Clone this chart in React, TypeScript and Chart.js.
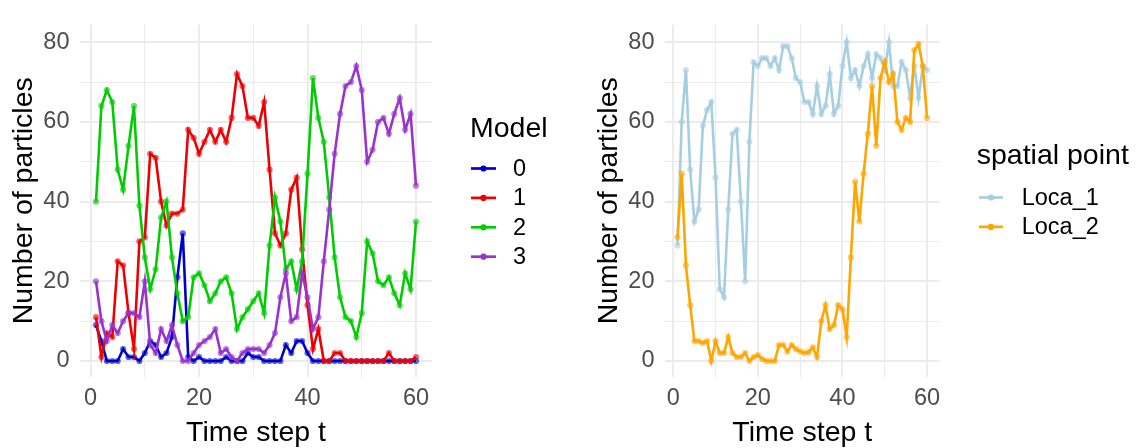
import React, { useEffect, useRef } from 'react';
import { Chart, registerables } from 'chart.js';

Chart.register(...registerables);

// ---------- data ----------
const timeSteps = [1, 2, 3, 4, 5, 6, 7, 8, 9, 10, 11, 12, 13, 14, 15, 16, 17, 18, 19, 20, 21, 22, 23, 24, 25, 26, 27, 28, 29, 30, 31, 32, 33, 34, 35, 36, 37, 38, 39, 40, 41, 42, 43, 44, 45, 46, 47, 48, 49, 50, 51, 52, 53, 54, 55, 56, 57, 58, 59, 60];

const model0 = [9, 5, 0, 0, 0, 3, 1, 1, 0, 2, 5, 4, 1, 2, 6, 21, 32, 1, 0, 1, 0, 0, 0, 0, 1, 0, 0, 0, 2, 1, 1, 0, 0, 0, 0, 4, 2, 5, 5, 2, 0, 0, 0, 0, 0, 0, 0, 0, 0, 0, 0, 0, 0, 0, 0, 0, 0, 0, 0, 0];
const model1 = [11, 1, 7, 6, 25, 24, 12, 3, 30, 31, 52, 51, 40, 34, 37, 37, 38, 58, 56, 52, 55, 58, 55, 58, 55, 61, 72, 69, 61, 61, 59, 65, 48, 32, 29, 32, 43, 46, 28, 14, 3, 8, 0, 0, 2, 2, 0, 0, 0, 0, 0, 0, 0, 0, 2, 0, 0, 0, 0, 1];
const model2 = [40, 64, 68, 65, 48, 43, 54, 64, 39, 26, 18, 23, 36, 40, 26, 17, 10, 11, 21, 22, 19, 15, 17, 20, 21, 17, 8, 11, 13, 15, 17, 12, 29, 41, 35, 23, 25, 18, 25, 47, 71, 61, 55, 41, 26, 16, 11, 10, 6, 12, 30, 27, 20, 19, 21, 17, 14, 22, 18, 35];
const model3 = [20, 10, 5, 9, 7, 10, 12, 12, 11, 20, 4, 2, 8, 5, 9, 4, 0, 0, 2, 4, 5, 6, 8, 2, 3, 1, 0, 2, 3, 3, 3, 2, 4, 7, 16, 22, 10, 11, 22, 16, 8, 11, 25, 38, 52, 62, 69, 70, 74, 68, 50, 53, 60, 61, 57, 62, 66, 58, 62, 44];

const loca1 = [29, 60, 73, 48, 35, 38, 59, 63, 65, 46, 18, 16, 38, 57, 58, 40, 20, 55, 75, 74, 76, 76, 74, 76, 73, 79, 79, 76, 71, 70, 65, 65, 62, 69, 62, 64, 72, 62, 64, 74, 80, 71, 73, 69, 74, 77, 71, 77, 76, 73, 80, 69, 69, 75, 73, 66, 74, 66, 74, 73];
const loca2 = [31, 47, 24, 14, 5, 5, 4.5, 5, 0, 5, 2, 2, 6, 2, 1, 1, 2, 0, 1, 1.5, 0.5, 0, 0, 0, 4, 4, 2.4, 4, 3, 2.4, 2, 2.2, 3.4, 1, 10, 14, 8, 9, 14, 13, 6, 26, 45, 35, 47, 57, 69, 54, 71, 75, 70, 72, 60, 58, 61, 60, 78, 79.5, 74, 61];

const modelNames = ['0', '1', '2', '3'];
const modelColors = ['#0000CD', '#EE0000', '#00CD00', '#9A32CD'];
const locaNames = ['Loca_1', 'Loca_2'];
const locaColors = ['#A6CEE3', '#FFA500'];

const xTickValues = [0, 10, 20, 30, 40, 50, 60];
const yTickValues = [0, 10, 20, 30, 40, 50, 60, 70, 80];

// ---------- styling ----------
const FONT = '"Liberation Sans", Arial, Helvetica, sans-serif';
const GRID = '#EBEBEB';
const TICK_COLOR = '#4D4D4D';

function withAlpha(hex: string, a: number) {
  const r = parseInt(hex.slice(1, 3), 16);
  const g = parseInt(hex.slice(3, 5), 16);
  const b = parseInt(hex.slice(5, 7), 16);
  return `rgba(${r},${g},${b},${a})`;
}

const ggLegend = {
  id: 'ggLegend',
  afterDraw(chart: any, _args: any, opts: any) {
    const ctx = chart.ctx;
    ctx.save();
    ctx.textAlign = 'left';
    ctx.textBaseline = 'alphabetic';
    ctx.fillStyle = '#000';
    ctx.font = `28.5px ${FONT}`;
    ctx.fillText(opts.title, opts.titleX, opts.titleBaseline);
    ctx.font = `23.5px ${FONT}`;
    opts.items.forEach((it: any, i: number) => {
      const cy = opts.itemY0 + i * opts.itemGap;
      ctx.strokeStyle = it.color;
      ctx.lineWidth = 2.7;
      ctx.beginPath();
      ctx.moveTo(opts.keyX0, cy);
      ctx.lineTo(opts.keyX1, cy);
      ctx.stroke();
      ctx.fillStyle = it.color;
      ctx.beginPath();
      ctx.arc((opts.keyX0 + opts.keyX1) / 2, cy, 3.1, 0, Math.PI * 2);
      ctx.fill();
      ctx.fillStyle = '#000';
      ctx.textBaseline = 'middle';
      ctx.fillText(it.label, opts.labelX, cy + 1);
    });
    ctx.restore();
  },
};

function makeDataset(label: string, values: number[], color: string, order: number) {
  return {
    label,
    data: timeSteps.map((t, i) => ({ x: t, y: values[i] })),
    borderColor: color,
    backgroundColor: color,
    borderWidth: 2.6,
    pointRadius: 3.1,
    pointHoverRadius: 3.1,
    pointBackgroundColor: withAlpha(color, 0.6),
    pointBorderWidth: 0,
    tension: 0,
    order,
  };
}

function makeOptions(paddingRight: number, legendOpts: any) {
  return {
    responsive: false,
    maintainAspectRatio: false,
    animation: false as const,
    events: [] as any[],
    layout: { padding: { left: 0, top: 5.5, right: paddingRight, bottom: 0 } },
    plugins: {
      legend: { display: false },
      tooltip: { enabled: false },
      ggLegend: legendOpts,
    },
    scales: {
      x: {
        type: 'linear' as const,
        min: -1.95,
        max: 62.95,
        afterBuildTicks: (s: any) => {
          s.ticks = xTickValues.map((v) => ({ value: v }));
        },
        afterFit: (s: any) => {
          s.height = 71;
        },
        border: { display: false },
        grid: {
          color: GRID,
          lineWidth: (c: any) => (c.tick && c.tick.value % 20 === 0 ? 1.9 : 1.1),
          drawTicks: false,
        },
        ticks: {
          autoSkip: false,
          maxRotation: 0,
          padding: 7,
          color: TICK_COLOR,
          font: { family: FONT, size: 23.5 },
          callback: (v: any) => (v % 20 === 0 ? String(v) : ''),
        },
        title: {
          display: true,
          text: 'Time step t',
          color: '#000',
          font: { family: FONT, size: 28.5, lineHeight: 1 },
          padding: { top: 0, bottom: 0.5 },
        },
      },
      y: {
        type: 'linear' as const,
        min: -4.02,
        max: 84.42,
        afterBuildTicks: (s: any) => {
          s.ticks = yTickValues.map((v) => ({ value: v }));
        },
        afterFit: (s: any) => {
          s.width = 80;
        },
        border: { display: false },
        grid: {
          color: GRID,
          lineWidth: (c: any) => (c.tick && c.tick.value % 20 === 0 ? 1.9 : 1.1),
          drawTicks: false,
        },
        ticks: {
          autoSkip: false,
          padding: 10.5,
          color: TICK_COLOR,
          font: { family: FONT, size: 23.5 },
          callback: (v: any) => (v % 20 === 0 ? String(v) : ''),
        },
        title: {
          display: true,
          text: 'Number of particles',
          color: '#000',
          font: { family: FONT, size: 28.5, lineHeight: 1.2 },
          padding: { top: 7, bottom: 0 },
        },
      },
    },
  };
}

function ModelChart() {
  const ref = useRef<HTMLCanvasElement | null>(null);
  useEffect(() => {
    if (!ref.current) return;
    const datasets = [
      makeDataset(modelNames[0], model0, modelColors[0], 3),
      makeDataset(modelNames[1], model1, modelColors[1], 2),
      makeDataset(modelNames[2], model2, modelColors[2], 1),
      makeDataset(modelNames[3], model3, modelColors[3], 0),
    ];
    const chart = new Chart(ref.current, {
      type: 'line',
      data: { datasets },
      options: makeOptions(138, {
        title: 'Model',
        titleX: 470,
        titleBaseline: 137,
        keyX0: 471,
        keyX1: 496,
        itemY0: 168.5,
        itemGap: 29.4,
        labelX: 513,
        items: modelNames.map((n, i) => ({ label: n, color: modelColors[i] })),
      }) as any,
      plugins: [ggLegend as any],
    });
    return () => chart.destroy();
  }, []);
  return <canvas ref={ref} width={570} height={448} style={{ position: 'absolute', left: 0, top: 0 }} />;
}

function LocaChart() {
  const ref = useRef<HTMLCanvasElement | null>(null);
  useEffect(() => {
    if (!ref.current) return;
    const datasets = [
      makeDataset(locaNames[0], loca1, locaColors[0], 1),
      makeDataset(locaNames[1], loca2, locaColors[1], 0),
    ];
    const chart = new Chart(ref.current, {
      type: 'line',
      data: { datasets },
      options: makeOptions(200.5, {
        title: 'spatial point',
        titleX: 391.7,
        titleBaseline: 164,
        keyX0: 394,
        keyX1: 418,
        itemY0: 197.5,
        itemGap: 29.4,
        labelX: 436.7,
        items: locaNames.map((n, i) => ({ label: n, color: locaColors[i] })),
      }) as any,
      plugins: [ggLegend as any],
    });
    return () => chart.destroy();
  }, []);
  return <canvas ref={ref} width={555} height={448} style={{ position: 'absolute', left: 585, top: 0 }} />;
}

export default function App() {
  return (
    <div style={{ position: 'fixed', left: 0, top: 0, width: 1140, height: 448, background: '#fff', overflow: 'hidden' }}>
      <ModelChart />
      <LocaChart />
    </div>
  );
}
